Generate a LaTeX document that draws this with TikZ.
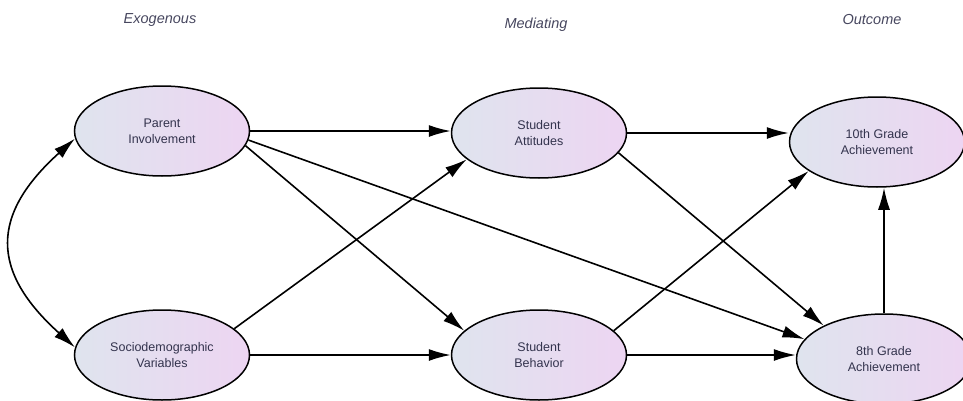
\documentclass[tikz,border=0pt]{standalone}
\usepackage{fontspec}
\setmainfont{Liberation Sans}
\usetikzlibrary{arrows.meta,shapes.geometric,positioning}

\definecolor{fundoA}{HTML}{DFE4EE}
\definecolor{fundoB}{HTML}{EDD5F2}
\definecolor{texto}{HTML}{33334D}

\tikzset{
  elipse/.style={ellipse,draw,line width=1.5pt,left color=fundoA,right color=fundoB,
    minimum width=175pt,minimum height=90pt,inner sep=0pt,align=center,
    text=texto,font=\fontsize{12.5}{16}\selectfont},
  rotulo/.style={text=texto!90,font=\fontsize{14.5}{16}\selectfont\itshape},
  seta/.style={->,line width=1.6pt}
}

\begin{document}
\begin{tikzpicture}[x=1pt,y=1pt,>={Latex[length=22pt,width=12pt]}]
	\useasboundingbox (0,0) rectangle (963,400);
	% rotulos das colunas
	\node[rotulo] (exo) at (160,380) {Exogenous};
	\node[rotulo] (med) at (536,375) {Mediating};
	\node[rotulo] (out) at (872,380) {Outcome};
	% elipses
	\node[elipse] (pai) at (162,269) {Parent\\Involvement};
	\node[elipse] (soc) at (162,45) {Sociodemographic\\Variables};
	\node[elipse] (ati) at (539,267) {Student\\Attitudes};
	\node[elipse] (com) at (539,45) {Student\\Behavior};
	\node[elipse] (dez) at (877,258) {10th Grade\\Achievement};
	\node[elipse] (oit) at (884,41) {8th Grade\\Achievement};
	% covariancia
	\draw[<->,line width=1.6pt] (pai.185) to[out=222,in=138,looseness=1.4] (soc.175);
	% setas horizontais
	\draw[seta] (pai.east) -- (pai.east -| ati.west);
	\draw[seta] (soc.east) -- (soc.east -| com.west);
	\draw[seta] (ati.east) -- (ati.east -| dez.west);
	\draw[seta] (com.east) -- (com.east -| oit.west);
	% setas diagonais
	\draw[seta] (pai.-10) -- (com.162);
	\draw[seta] (pai.-6) -- (oit.166);
	\draw[seta] (soc.20) -- (ati.200);
	\draw[seta] (ati.-14) -- (oit.151);
	\draw[seta] (com.18) -- (dez.203);
	\draw[seta] (oit) -- (oit |- dez.south);
\end{tikzpicture}
\end{document}
